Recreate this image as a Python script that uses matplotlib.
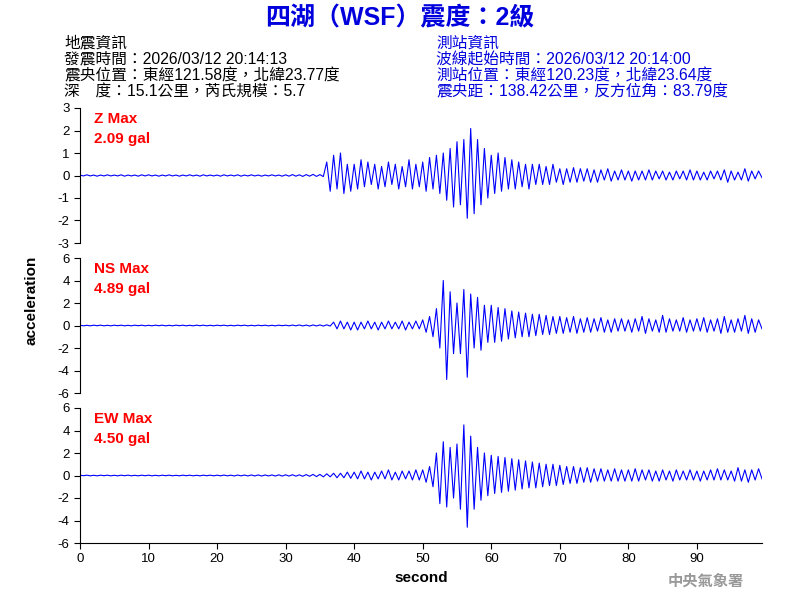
import matplotlib
matplotlib.use("Agg")
import matplotlib.pyplot as plt
import numpy as np

plt.rcParams['font.family'] = ['Liberation Sans', 'Noto Sans CJK TC', 'DejaVu Sans']
plt.rcParams['axes.unicode_minus'] = False

dt = 0.5
z_vals = [
 0.02,-0.02,0.03,-0.02,0.02,-0.03,0.02,-0.02,0.03,-0.02,0.02,-0.02,0.03,-0.03,0.02,-0.02,0.02,-0.03,0.03,-0.02,
 0.03,-0.02,0.02,-0.03,0.02,-0.02,0.03,-0.02,0.02,-0.03,0.02,-0.02,0.03,-0.02,0.02,-0.03,0.03,-0.02,0.02,-0.02,
 0.02,-0.03,0.03,-0.02,0.02,-0.02,0.03,-0.03,0.02,-0.02,0.03,-0.02,0.02,-0.03,0.02,-0.02,0.03,-0.02,0.02,-0.03,
 0.03,-0.03,0.04,-0.03,0.03,-0.04,0.04,-0.03,0.05,-0.04,0.04,-0.05,0.6,-0.7,0.9,-0.6,1.0,-0.8,0.5,-0.7,
 0.5,-0.6,0.7,-0.5,0.6,-0.4,0.5,-0.6,0.4,-0.5,0.6,-0.4,0.5,-0.6,0.4,-0.5,0.7,-0.6,0.5,-0.5,
 0.6,-0.7,0.8,-0.6,0.9,-0.8,1.0,-1.1,1.2,-1.4,1.5,-1.3,1.6,-1.9,2.09,-1.7,1.6,-1.3,1.2,-1.0,
 0.9,-0.8,1.0,-0.7,0.8,-0.6,0.7,-0.6,0.6,-0.5,0.5,-0.6,0.5,-0.4,0.5,-0.4,0.4,-0.4,0.5,-0.3,
 0.3,-0.4,0.3,-0.3,0.35,-0.3,0.3,-0.25,0.3,-0.3,0.25,-0.3,0.25,-0.2,0.3,-0.25,0.2,-0.2,0.25,-0.2,
 0.2,-0.25,0.2,-0.2,0.2,-0.2,0.25,-0.2,0.2,-0.15,0.2,-0.2,0.15,-0.2,0.2,-0.15,0.2,-0.2,0.25,-0.2,
 0.2,-0.2,0.15,-0.2,0.2,-0.15,0.2,-0.2,0.25,-0.3,0.2,-0.2,0.15,-0.2,0.3,-0.25,0.2,-0.15,0.2,-0.1,
]
ns_vals = [
 0.03,-0.03,0.02,-0.03,0.03,-0.02,0.03,-0.03,0.02,-0.03,0.03,-0.02,0.03,-0.03,0.02,-0.03,0.03,-0.02,0.03,-0.03,
 0.02,-0.03,0.03,-0.02,0.03,-0.03,0.02,-0.03,0.03,-0.02,0.03,-0.03,0.02,-0.03,0.03,-0.02,0.03,-0.03,0.02,-0.03,
 0.03,-0.02,0.03,-0.03,0.02,-0.03,0.03,-0.02,0.03,-0.03,0.02,-0.03,0.03,-0.02,0.03,-0.03,0.02,-0.03,0.03,-0.02,
 0.03,-0.03,0.04,-0.03,0.05,-0.04,0.04,-0.05,0.05,-0.04,0.05,-0.05,0.06,-0.05,0.3,-0.3,0.4,-0.3,0.3,-0.4,
 0.3,-0.4,0.3,-0.3,0.4,-0.3,0.3,-0.4,0.3,-0.3,0.4,-0.3,0.3,-0.3,0.4,-0.4,0.3,-0.3,0.4,-0.3,
 0.5,-0.6,0.8,-1.0,1.5,-2.0,4.0,-4.8,3.0,-2.5,2.0,-2.5,3.2,-4.6,2.8,-2.0,2.5,-2.2,1.8,-1.5,
 1.8,-1.5,1.6,-1.4,1.5,-1.2,1.3,-1.1,1.2,-1.0,1.1,-1.0,1.0,-0.9,1.0,-0.8,0.9,-0.8,0.8,-0.7,
 0.8,-0.7,0.7,-0.6,0.8,-0.7,0.6,-0.6,0.7,-0.6,0.6,-0.5,0.7,-0.6,0.5,-0.6,0.6,-0.5,0.6,-0.5,
 0.5,-0.6,0.6,-0.5,0.8,-0.7,0.6,-0.5,0.5,-0.6,0.9,-0.6,0.6,-0.5,0.5,-0.5,0.7,-0.6,0.5,-0.5,
 0.6,-0.5,0.7,-0.6,0.5,-0.5,0.6,-0.7,0.8,-0.6,0.5,-0.6,0.6,-0.5,0.9,-0.7,0.6,-0.6,0.5,-0.3,
]
ew_vals = [
 0.03,-0.02,0.03,-0.03,0.02,-0.03,0.03,-0.02,0.03,-0.03,0.02,-0.03,0.03,-0.02,0.03,-0.03,0.02,-0.03,0.03,-0.02,
 0.03,-0.03,0.02,-0.03,0.03,-0.02,0.03,-0.03,0.02,-0.03,0.03,-0.02,0.03,-0.03,0.02,-0.03,0.03,-0.02,0.03,-0.03,
 0.03,-0.03,0.04,-0.03,0.03,-0.04,0.04,-0.03,0.04,-0.04,0.05,-0.04,0.05,-0.05,0.05,-0.04,0.05,-0.05,0.06,-0.05,
 0.06,-0.05,0.07,-0.06,0.06,-0.07,0.08,-0.07,0.1,-0.1,0.1,-0.12,0.15,-0.12,0.2,-0.2,0.2,-0.2,0.3,-0.25,
 0.3,-0.3,0.4,-0.3,0.3,-0.4,0.3,-0.3,0.4,-0.3,0.5,-0.4,0.3,-0.4,0.4,-0.3,0.4,-0.4,0.5,-0.4,
 0.5,-0.6,0.8,-1.0,2.0,-2.5,3.0,-2.8,2.5,-2.0,2.8,-3.0,4.5,-4.6,3.5,-3.0,2.5,-2.2,2.0,-1.8,
 1.8,-1.6,1.7,-1.5,1.6,-1.4,1.5,-1.3,1.4,-1.2,1.3,-1.1,1.2,-1.1,1.1,-1.0,1.0,-0.9,1.0,-0.9,
 0.9,-0.8,0.8,-0.7,0.8,-0.7,0.7,-0.6,0.7,-0.6,0.6,-0.5,0.6,-0.5,0.5,-0.5,0.6,-0.5,0.5,-0.5,
 0.5,-0.5,0.6,-0.5,0.5,-0.4,0.5,-0.5,0.4,-0.5,0.5,-0.4,0.4,-0.5,0.5,-0.4,0.4,-0.4,0.5,-0.4,
 0.4,-0.5,0.4,-0.4,0.5,-0.4,0.6,-0.4,0.5,-0.4,0.4,-0.5,0.7,-0.5,0.5,-0.6,0.5,-0.4,0.6,-0.3,
]

labels = ['Z Max\n2.09 gal', 'NS Max\n4.89 gal', 'EW Max\n4.50 gal']
ylims = [3, 6, 6]
ysteps = [1, 2, 2]
series = [z_vals, ns_vals, ew_vals]

fig = plt.figure(figsize=(8, 6), dpi=100)
tops = [0.82, 0.57, 0.32]
for i, (vals, lab, yl, st, top) in enumerate(zip(series, labels, ylims, ysteps, tops)):
    ax = fig.add_axes([0.1, top - 0.225, 0.8525, 0.225])
    t = np.arange(len(vals)) * dt
    ax.plot(t, vals, color='blue', lw=0.8)
    ax.set_xlim(0, 99.5)
    ax.set_ylim(-yl, yl)
    ax.set_yticks(np.arange(-yl, yl + 0.1, st))
    ax.tick_params(labelsize=9.5, length=4)
    for s in ['top', 'right']:
        ax.spines[s].set_visible(False)
    ax.text(0.02, 0.97, lab, transform=ax.transAxes, color='red', fontsize=11,
            fontweight='bold', va='top', ha='left', linespacing=1.5)
    if i < 2:
        ax.spines['bottom'].set_visible(False)
        ax.set_xticks([])
    else:
        ax.set_xticks(np.arange(0, 91, 10))
        ax.set_xlabel('second', fontsize=11, fontweight='bold')

fig.text(0.04, 0.5, 'acceleration', rotation=90, fontsize=11, fontweight='bold',
         ha='center', va='center')
cjk = ['Liberation Sans', 'Noto Sans CJK TC']
fig.text(0.5, 0.97, '四湖（WSF）震度：2級', color='#0000dd', fontsize=18,
         fontweight='bold', ha='center', va='center', family=cjk)
left = ['地震資訊', '發震時間：2026/03/12 20:14:13', '震央位置：東經121.58度，北緯23.77度',
        '深　度：15.1公里，芮氏規模：5.7']
right = ['測站資訊', '波線起始時間：2026/03/12 20:14:00', '測站位置：東經120.23度，北緯23.64度',
         '震央距：138.42公里，反方位角：83.79度']
for k, (a, b) in enumerate(zip(left, right)):
    y = 0.928 - k * 0.027
    fig.text(0.08, y, a, fontsize=11.3, color='black', va='center', family=cjk)
    fig.text(0.545, y, b, fontsize=11.3, color='#0000dd', va='center', family=cjk)
fig.text(0.93, 0.032, '中央氣象署', color='#999999', fontsize=11, fontweight='bold',
         ha='right', va='center', family=['Noto Sans CJK TC'])
fig.savefig('out.png', dpi=100)
